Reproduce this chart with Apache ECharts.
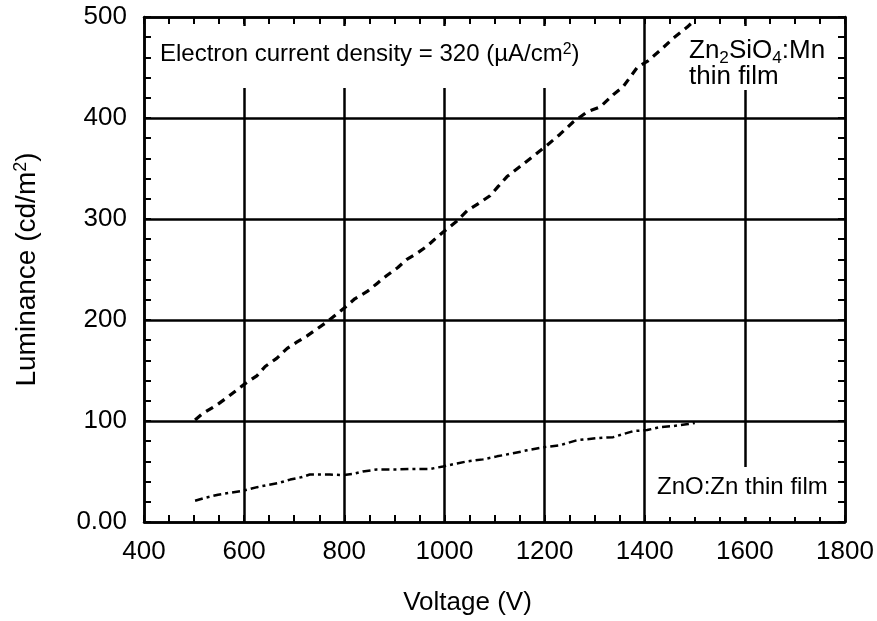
<!DOCTYPE html>
<html>
<head>
  <meta charset="utf-8">
</head>
<body style="height: 100%; margin: 0">
  <div id="container" style="width: 877px; height: 621px"></div>
  <script type="text/javascript" src="https://cdn.jsdelivr.net/npm/echarts@6/dist/echarts.min.js"></script>
  <script type="text/javascript">
    // Zn2SiO4:Mn thin film, [voltage (V), luminance (cd/m2)]
    var znSiData = [
      [502, 101], [516, 107], [546, 116], [568, 124], [586, 131], [602, 137],
      [626, 145], [642, 154], [665, 162], [686, 172], [705, 178], [725, 184],
      [745, 191], [765, 198], [785, 206], [805, 214], [821, 221], [845, 228],
      [865, 236], [885, 244], [907, 252], [925, 260], [945, 266], [965, 273],
      [985, 282], [1000, 288], [1025, 298], [1045, 308], [1067, 315], [1091, 323],
      [1107, 332], [1125, 342], [1151, 352], [1177, 362], [1205, 373], [1231, 384],
      [1257, 396], [1285, 406], [1311, 411], [1337, 423], [1357, 431], [1385, 450],
      [1405, 456], [1431, 467], [1457, 479], [1485, 490], [1500, 497]
    ];
    // ZnO:Zn thin film
    var znoData = [
      [502, 21], [522, 24], [548, 27], [572, 29], [598, 31], [626, 34.5],
      [646, 36.5], [668, 38.5], [692, 42], [716, 44.5], [731, 47], [771, 47],
      [797, 46.5], [817, 47.5], [837, 50], [865, 52], [905, 52], [937, 52.5],
      [971, 52.5], [997, 55], [1025, 58], [1045, 60], [1077, 62], [1105, 65],
      [1137, 68], [1165, 71], [1197, 74], [1231, 76], [1265, 81], [1305, 83],
      [1337, 84], [1377, 90], [1405, 91], [1431, 94], [1457, 95], [1487, 97],
      [1500, 98]
    ];
    var xTicks = { min: 400, max: 1800, interval: 200 };
    var yTicks = { min: 0, max: 500, interval: 100 };

    var font = 'Liberation Sans, Arial, sans-serif';
    var dom = document.getElementById('container');
    var myChart = echarts.init(dom, null, { renderer: 'canvas' });

    var lineStyleAxis = { color: '#000', width: 2.5 };

    function xAxisOpt(pos, labels) {
      return {
        type: 'value', position: pos,
        min: xTicks.min, max: xTicks.max, interval: xTicks.interval,
        axisLine: { show: true, onZero: false, lineStyle: lineStyleAxis },
        axisTick: { show: true, inside: true, length: 7, lineStyle: { color: '#000', width: 2 } },
        minorTick: { show: true, splitNumber: 4, length: 7, lineStyle: { color: '#000', width: 2 } },
        splitLine: { show: labels, lineStyle: { color: '#000', width: 2.5 } },
        axisLabel: {
          show: labels, margin: 17, color: '#000', fontSize: 26, fontFamily: font,
          formatter: function (v) { return String(v); }
        },
        name: labels ? 'Voltage (V)' : '',
        nameLocation: 'middle', nameGap: 68,
        nameTextStyle: { color: '#000', fontSize: 26, fontFamily: font, padding: [0, 54, 0, 0] }
      };
    }
    function yAxisOpt(pos, labels) {
      return {
        type: 'value', position: pos,
        min: yTicks.min, max: yTicks.max, interval: yTicks.interval,
        axisLine: { show: true, onZero: false, lineStyle: lineStyleAxis },
        axisTick: { show: true, inside: true, length: 7, lineStyle: { color: '#000', width: 2 } },
        minorTick: { show: true, splitNumber: 5, length: 7, lineStyle: { color: '#000', width: 2 } },
        splitLine: { show: labels, lineStyle: { color: '#000', width: 2.5 } },
        axisLabel: {
          show: labels, margin: 17, color: '#000', fontSize: 26, fontFamily: font,
          formatter: function (v) { return v === 0 ? '0.00' : String(v); }
        },
        name: labels ? '{a|Luminance (cd/m}{sup|2}{a|)}' : '',
        nameLocation: 'middle', nameGap: 102,
        nameTextStyle: {
          color: '#000', fontFamily: font,
          rich: {
            a: { fontSize: 28, lineHeight: 30, color: '#000', fontFamily: font },
            sup: { fontSize: 18, lineHeight: 14, verticalAlign: 'top', color: '#000', fontFamily: font }
          }
        }
      };
    }

    function richStyle(size) {
      return {
        a: { fontSize: size, lineHeight: size, fill: '#000', fontFamily: font },
        sup: { fontSize: size * 0.66, lineHeight: 2, verticalAlign: 'top', fill: '#000', fontFamily: font },
        sub: {
          fontSize: size * 0.66, lineHeight: 2, verticalAlign: 'top',
          padding: [Math.round(size * 0.45), 0, 0, 0], fill: '#000', fontFamily: font
        }
      };
    }

    var option = {
      animation: false,
      backgroundColor: '#fff',
      grid: { left: 144, right: 32, top: 17, bottom: 97 },
      xAxis: [xAxisOpt('bottom', true), xAxisOpt('top', false)],
      yAxis: [yAxisOpt('left', true), yAxisOpt('right', false)],
      graphic: [
        // white boxes behind the annotations hide the grid lines
        { type: 'rect', z: 1, shape: { x: 154, y: 26, width: 466, height: 62 }, style: { fill: '#fff' } },
        { type: 'rect', z: 1, shape: { x: 700, y: 26, width: 137, height: 64 }, style: { fill: '#fff' } },
        { type: 'rect', z: 1, shape: { x: 650, y: 467, width: 187, height: 50 }, style: { fill: '#fff' } },
        {
          type: 'text', z: 5, left: 160, top: 42,
          style: { text: '{a|Electron current density = 320 (\u00b5A/cm}{sup|2}{a|)}', rich: richStyle(24) }
        },
        {
          type: 'text', z: 5, left: 689, top: 38,
          style: { text: '{a|Zn}{sub|2}{a|SiO}{sub|4}{a|:Mn}\n{a|thin film}', rich: richStyle(26) }
        },
        {
          type: 'text', z: 5, left: 657, top: 475,
          style: { text: '{a|ZnO:Zn thin film}', rich: richStyle(24) }
        }
      ],
      series: [
        {
          name: 'Zn2SiO4:Mn', type: 'line', data: znSiData, showSymbol: false, z: 3,
          lineStyle: { color: '#000', width: 3.2, type: [8, 6] }
        },
        {
          name: 'ZnO:Zn', type: 'line', data: znoData, showSymbol: false, z: 3,
          lineStyle: { color: '#000', width: 2.5, type: [8, 4, 3, 4] }
        }
      ]
    };

    myChart.setOption(option);
    window.addEventListener('resize', myChart.resize);
  </script>
</body>
</html>
